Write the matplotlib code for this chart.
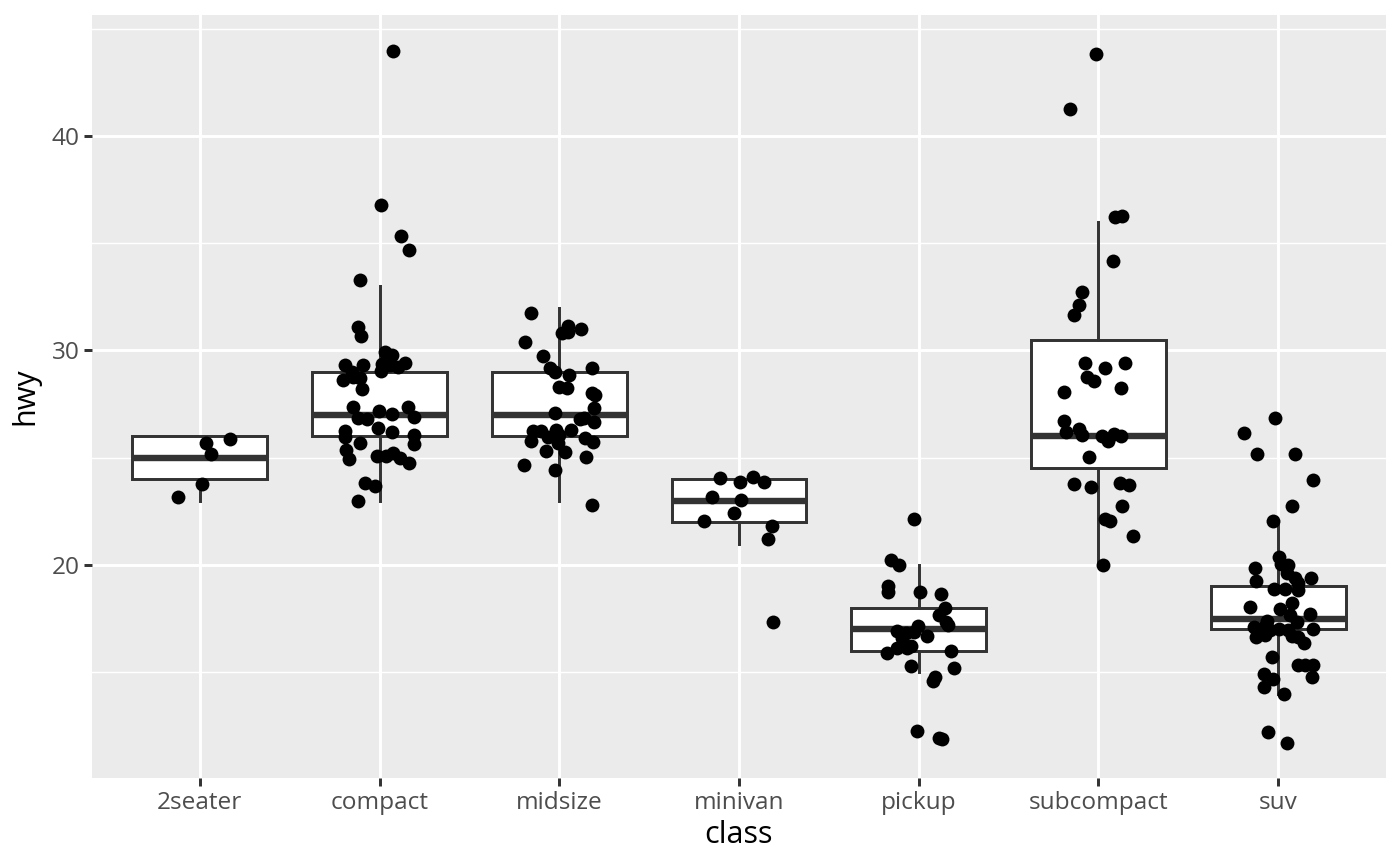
import matplotlib.pyplot as plt
import numpy as np

plt.rcParams['font.family'] = ['Open Sans', 'DejaVu Sans']

classes = ['2seater', 'compact', 'midsize', 'minivan', 'pickup', 'subcompact', 'suv']

# box statistics (no outliers drawn)
box_q1 = [24, 26, 26, 22, 16, 24.5, 17]
box_med = [25, 27, 27, 23, 17, 26, 17.5]
box_q3 = [26, 29, 29, 24, 18, 30.5, 19]
whisk_lo = [23, 23, 23, 21, 15, 20, 14]
whisk_hi = [26, 33, 32, 24, 20, 36, 22]

# jittered points: horizontal offset from class centre, hwy value
seater_dx = [-0.124, 0.011, 0.033, 0.063, 0.169]
seater_hwy = [23.16, 23.78, 25.67, 25.16, 25.86]

compact_dx = [0.076, 0.006, 0.12, 0.165, -0.109, -0.118, -0.104,
              0.03, 0.072, -0.193, -0.09, 0.011, 0.057, 0.104, 0.144, 0.007,
              -0.156, -0.202, -0.146, -0.109, -0.1, -0.146, 0.156, -0.002,
              0.072, 0.193, -0.119, -0.067, -0.011, -0.193, 0.07, -0.193,
              0.193, 0.19, -0.106, -0.189, -0.171, -0.013, 0.035, 0.076,
              0.113, 0.163, -0.081, -0.026, -0.122]
compact_hwy = [43.98, 36.77, 35.34, 34.69, 33.29, 31.11, 30.68,
               29.94, 29.79, 29.32, 29.32, 29.36, 29.32, 29.24, 29.4, 29.06,
               29.01, 28.62, 28.78, 28.7, 28.19, 27.38, 27.38, 27.17,
               27.03, 26.89, 26.84, 26.81, 26.4, 26.25, 26.21, 25.98,
               26.06, 25.64, 25.67, 25.36, 24.93, 25.08, 25.1, 25.24,
               24.97, 24.74, 23.84, 23.68, 23.0]

midsize_dx = [-0.156, 0.048, 0.015, 0.048, 0.122, -0.193, -0.091, -0.054,
              -0.026, 0.052, 0.181, -0.004, 0.043, 0.181, 0.2, 0.193,
              -0.026, 0.113, 0.137, 0.193, -0.146, -0.1, -0.017, 0.067,
              -0.063, -0.004, -0.159, -0.007, 0.141, 0.187, -0.072, 0.03,
              0.146, -0.198, -0.026, 0.183]
midsize_hwy = [31.73, 31.16, 30.8, 30.85, 31.0, 30.41, 29.74, 29.17,
               28.98, 28.86, 29.2, 28.31, 28.27, 28.0, 27.93, 27.31,
               27.1, 26.81, 26.84, 26.68, 26.25, 26.25, 26.29, 26.29,
               25.98, 26.06, 25.78, 25.67, 25.93, 25.75, 25.31, 25.25,
               25.02, 24.66, 24.43, 22.8]

minivan_dx = [-0.104, 0.006, 0.079, 0.137, -0.15, 0.011, -0.03, -0.196,
              0.183, 0.163, 0.191]
minivan_hwy = [24.04, 23.88, 24.12, 23.86, 23.16, 23.03, 22.44, 22.07,
               21.83, 21.21, 17.36]

pickup_dx = [-0.026, -0.156, -0.109, -0.169, -0.169, 0.006, 0.126, 0.146,
             0.113, 0.15, 0.163, -0.002, -0.119, -0.072, -0.026, 0.044,
             -0.091, -0.044, -0.063, -0.122, -0.174, 0.181, -0.044, 0.196,
             0.089, 0.081, -0.007, 0.113, 0.128]
pickup_hwy = [22.13, 20.23, 20.0, 19.02, 18.73, 18.76, 18.63, 18.01,
              17.67, 17.36, 17.2, 17.16, 16.92, 16.84, 16.89, 16.69,
              16.58, 16.22, 16.12, 16.14, 15.88, 16.0, 15.31, 15.18,
              14.79, 14.59, 12.27, 11.92, 11.87]

subcompact_dx = [-0.013, -0.156, 0.091, 0.131, 0.081, -0.094, -0.109, -0.137,
                 -0.072, 0.035, 0.146, -0.063, -0.026, -0.189, 0.126, -0.193,
                 -0.178, -0.109, -0.091, 0.02, 0.052, 0.089, 0.128, -0.05,
                 -0.137, -0.044, 0.122, 0.172, 0.131, 0.035, 0.063, 0.193,
                 0.024]
subcompact_hwy = [43.82, 41.26, 36.21, 36.27, 34.19, 32.74, 32.12, 31.66,
                  29.43, 29.17, 29.4, 28.75, 28.59, 28.08, 28.27, 26.73,
                  26.21, 26.33, 26.06, 26.01, 25.8, 26.11, 26.01, 25.05,
                  23.78, 23.62, 23.81, 23.72, 22.77, 22.13, 22.05, 21.37,
                  20.0]

suv_dx = [-0.02, -0.189, -0.118, 0.096, 0.193, 0.076, -0.03, 0.002,
          0.015, 0.057, -0.128, 0.048, -0.122, 0.094, 0.181, 0.113,
          -0.022, 0.039, 0.113, 0.076, -0.159, 0.011, 0.178, 0.067,
          0.104, -0.063, -0.137, -0.091, -0.044, 0.002, 0.193, 0.057,
          -0.122, -0.072, 0.076, 0.113, 0.146, -0.035, 0.113, 0.15,
          0.193, -0.081, -0.03, 0.191, -0.081, 0.03, -0.057, 0.048]
suv_hwy = [26.84, 26.14, 25.16, 25.17, 23.96, 22.75, 22.05, 20.39,
           20.03, 20.0, 19.85, 19.61, 19.25, 19.38, 19.38, 19.15,
           18.88, 18.87, 18.83, 18.21, 18.03, 17.93, 17.72, 17.67,
           17.36, 17.4, 17.12, 17.05, 16.97, 17.0, 17.0, 16.97,
           16.66, 16.74, 16.69, 16.63, 16.38, 15.7, 15.34, 15.34,
           15.34, 14.92, 14.67, 14.76, 14.3, 13.97, 12.23, 11.72]

point_dx = [seater_dx, compact_dx, midsize_dx, minivan_dx, pickup_dx, subcompact_dx, suv_dx]
point_hwy = [seater_hwy, compact_hwy, midsize_hwy, minivan_hwy, pickup_hwy, subcompact_hwy, suv_hwy]

fig = plt.figure(figsize=(7, 4.33), dpi=200)
ax = fig.add_axes([0.0657, 0.1016, 0.9243, 0.8811])
ax.set_facecolor('#EBEBEB')

positions = np.arange(1, len(classes) + 1)
stats = []
for i, name in enumerate(classes):
    stats.append({'label': name, 'q1': box_q1[i], 'med': box_med[i], 'q3': box_q3[i],
                  'whislo': whisk_lo[i], 'whishi': whisk_hi[i], 'fliers': []})

edge = '#333333'
ax.bxp(stats, positions=positions, widths=0.75, patch_artist=True, showcaps=False,
       showfliers=False,
       boxprops=dict(facecolor='white', edgecolor=edge, linewidth=1.07),
       whiskerprops=dict(color=edge, linewidth=1.07),
       medianprops=dict(color=edge, linewidth=2.3, solid_capstyle='butt'),
       zorder=3)

for i in range(len(classes)):
    xs = positions[i] + np.array(point_dx[i])
    ax.scatter(xs, point_hwy[i], s=25, color='black', linewidths=0, zorder=4)

ax.set_xlim(0.4, 7.6)
ax.set_ylim(10.07, 45.64)
ax.set_xticks(positions)
ax.set_xticklabels(classes)
ax.set_yticks([20, 30, 40])
ax.set_yticks([15, 25, 35, 45], minor=True)

ax.grid(True, which='major', color='white', linewidth=1.07, zorder=0)
ax.grid(True, which='minor', axis='y', color='white', linewidth=0.53, zorder=0)
ax.set_axisbelow(True)

for s in ax.spines.values():
    s.set_visible(False)

ax.tick_params(axis='both', which='major', length=2.75, width=1.07, color=edge,
               labelsize=8.8, labelcolor='#4D4D4D', pad=1.8)
ax.tick_params(axis='y', which='minor', length=0)

ax.set_xlabel('class', fontsize=11, color='black', labelpad=2)
ax.set_ylabel('hwy', fontsize=11, color='black', labelpad=4)

fig.savefig('out.png', dpi=200, facecolor='white')
